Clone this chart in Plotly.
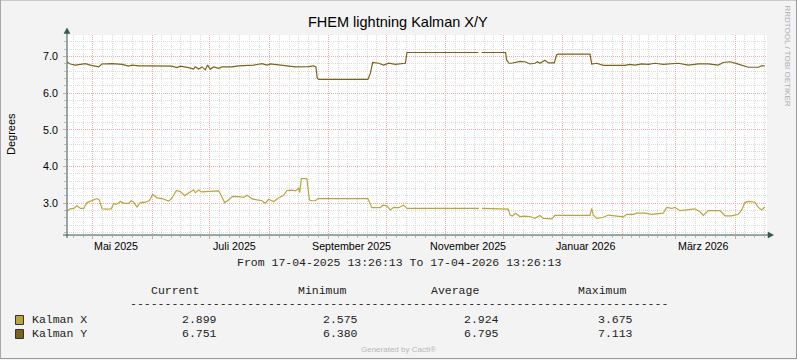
import numpy as np
import pandas as pd
import plotly.graph_objects as go

# ---------------- data ----------------
START = pd.Timestamp("2025-04-17 13:26:13")
END = pd.Timestamp("2026-04-17 13:26:13")

# Kalman Y : days since START and value (None = missing sample)
y_days = [0.0, 1.7, 4.3, 7.0, 9.6, 12.2, 14.8, 16.5, 18.2, 23.5, 28.7, 32.2, 33.9, 37.4, 42.6,
          49.5, 54.7, 57.4, 59.1, 63.4, 66.0, 66.9, 68.7, 70.4, 72.1, 73.3, 74.7, 76.5, 79.1,
          80.8, 86.0, 89.5, 94.7, 97.3, 101.7, 104.3, 106.0, 110.4, 113.8, 119.1, 126.0, 128.6,
          129.8, 130.5, 131.2, 156.9, 158.2, 159.4, 162.5, 165.1, 167.7, 171.2, 176.4, 177.3,
          181.4, 214.5, 215.5, 216.2, 228.7, 229.2, 230.5, 231.9, 236.2, 238.8, 241.4, 244.0,
          245.4, 246.6, 249.2, 251.0, 254.1, 255.3, 256.2, 272.7, 273.6, 276.2, 279.6, 290.9,
          293.5, 296.2, 299.6, 303.1, 306.6, 310.9, 315.3, 318.8, 324.0, 329.2, 334.4, 339.6,
          342.2, 345.7, 349.2, 352.6, 355.2, 360.5, 362.2, 363.9]
y_vals = [6.85, 6.80, 6.77, 6.80, 6.81, 6.77, 6.74, 6.72, 6.80, 6.81, 6.79, 6.74, 6.77, 6.75, 6.75,
          6.75, 6.74, 6.70, 6.74, 6.70, 6.66, 6.72, 6.66, 6.72, 6.64, 6.77, 6.66, 6.72, 6.68,
          6.72, 6.72, 6.75, 6.75, 6.77, 6.81, 6.77, 6.80, 6.77, 6.74, 6.72, 6.73, 6.75,
          6.72, 6.41, 6.38, 6.38, 6.55, 6.84, 6.82, 6.77, 6.82, 6.79, 6.82, 7.113,
          7.113, 7.113, None, 7.113, 7.113, 6.91, 6.82, 6.82, 6.87, 6.86, 6.80, 6.82,
          6.86, 6.82, 6.90, 6.83, 6.83, 7.05, 7.07, 7.07, 6.80, 6.82, 6.76, 6.76,
          6.79, 6.77, 6.80, 6.79, 6.82, 6.79, 6.80, 6.82, 6.77, 6.80, 6.80, 6.77,
          6.84, 6.86, 6.81, 6.76, 6.71, 6.71, 6.75, 6.751]

# Kalman X
x_days = [0.0, 1.7, 3.5, 5.2, 7.0, 8.7, 10.4, 13.0, 15.6, 16.9, 18.2, 20.0, 23.1, 24.3, 25.7,
          27.8, 29.5, 32.2, 33.5, 34.8, 36.5, 38.2, 40.8, 42.9, 44.7, 46.9, 49.5, 53.0, 54.7,
          57.0, 59.1, 61.4, 64.3, 66.0, 66.9, 68.7, 70.0, 73.9, 79.1, 79.9, 82.2, 84.3, 86.4,
          89.5, 92.1, 93.9, 96.5, 101.7, 103.4, 105.1, 107.8, 110.4, 113.0, 114.7, 117.3, 119.1,
          120.8, 121.3, 122.2, 125.1, 126.4, 127.7, 129.5, 130.9, 156.9, 159.0, 163.4, 164.6,
          166.8, 168.6, 170.3, 172.9, 175.5, 177.3, 214.8, 215.5, 216.4, 229.2, 230.1, 231.0,
          232.2, 233.9, 236.2, 238.8, 241.4, 244.0, 246.6, 248.4, 252.7, 254.4, 272.7, 273.6,
          274.4, 276.2, 279.6, 282.3, 285.7, 290.1, 291.8, 295.3, 297.0, 301.4, 304.8, 308.3,
          310.9, 312.7, 315.3, 317.0, 319.6, 323.1, 327.4, 330.0, 331.8, 334.4, 340.5, 343.1,
          346.6, 350.0, 351.8, 353.5, 355.2, 358.7, 360.5, 362.2, 363.9]
x_vals = [2.79, 2.85, 2.86, 2.93, 2.86, 2.86, 3.02, 3.07, 3.13, 3.09, 2.85, 2.84, 2.85, 2.99, 2.97,
          3.05, 3.00, 3.00, 3.07, 3.03, 2.90, 3.02, 3.03, 3.07, 3.24, 3.15, 3.13, 3.06, 3.14,
          3.35, 3.32, 3.21, 3.30, 3.37, 3.29, 3.36, 3.31, 3.33, 3.34, 3.27, 3.02, 3.09, 3.19,
          3.18, 3.16, 3.22, 3.12, 3.07, 3.00, 3.11, 3.05, 3.15, 3.22, 3.35, 3.36, 3.34,
          3.41, 3.29, 3.675, 3.675, 3.09, 3.07, 3.07, 3.13, 3.13, 2.88, 2.88, 2.95,
          2.93, 2.82, 2.89, 2.88, 2.95, 2.86, 2.86, None, 2.86, 2.86, 2.84, 2.68,
          2.65, 2.73, 2.64, 2.65, 2.64, 2.59, 2.67, 2.59, 2.575, 2.67, 2.67, 2.86,
          2.68, 2.59, 2.62, 2.68, 2.66, 2.63, 2.70, 2.70, 2.73, 2.73, 2.70, 2.71,
          2.73, 2.89, 2.86, 2.89, 2.80, 2.82, 2.85, 2.77, 2.67, 2.80, 2.80, 2.66,
          2.66, 2.70, 2.82, 3.02, 3.05, 3.03, 2.89, 2.82, 2.899]

month_label_days = [25.5, 87.1, 148.1, 209.1, 270.1, 332.1]
month_labels = ["Mai 2025", "Juli 2025", "September 2025", "November 2025", "Januar 2026", "März 2026"]

y_tick_vals = [3, 4, 5, 6, 7]
y_tick_text = ["3.0", "4.0", "5.0", "6.0", "7.0"]

series_names = ["Kalman X", "Kalman Y"]
stat_headers = ["Current", "Minimum", "Average", "Maximum"]
stats_x = ["2.899", "2.575", "2.924", "3.675"]
stats_y = ["6.751", "6.380", "6.795", "7.113"]

title_text = "FHEM lightning Kalman X/Y"
period_text = "From 17-04-2025 13:26:13 To 17-04-2026 13:26:13"

# ---------------- styling ----------------
W, H = 797, 360
L, R, T, B = 67, 767, 35, 235
COL_X = "#B9A53E"
COL_Y = "#7C6318"
AX = "#36584C"
SANS = "Liberation Sans, Arial, sans-serif"
MONO = "Liberation Mono, Courier New, monospace"
BG = "#F3F3F3"
MINOR_GRID = "#DADADA"
MAJOR_GRID = "#F2ABAB"


def PX(x):
    return (x - L) / (R - L)


def PY(y):
    return (B - y) / (B - T)


def to_time(days):
    return START + pd.to_timedelta(np.array(days, dtype=float), unit="D")


fig = go.Figure()
fig.add_trace(go.Scatter(x=to_time(x_days), y=x_vals, mode="lines", name=series_names[0],
                         line=dict(color=COL_X, width=1.2), connectgaps=False, showlegend=False))
fig.add_trace(go.Scatter(x=to_time(y_days), y=y_vals, mode="lines", name=series_names[1],
                         line=dict(color=COL_Y, width=1.2), connectgaps=False, showlegend=False))

# grid positions
months = pd.date_range("2025-04-01", "2026-05-01", freq="MS")
major = [m for m in months if START <= m <= END]
minor = []
for a, b in zip(months[:-1], months[1:]):
    for k in range(1, 6):
        t = a + (b - a) * k / 6
        if START <= t <= END:
            minor.append(t)

fig.update_xaxes(
    type="date", range=[START, END], tickmode="array",
    tickvals=[m.strftime("%Y-%m-%d %H:%M:%S") for m in major], ticktext=[""] * len(major),
    ticks="outside", ticklen=3, tickcolor="#E3A0A0", tickwidth=1,
    showgrid=True, gridcolor=MAJOR_GRID, gridwidth=1, griddash="1px,1px",
    minor=dict(tickmode="array", tickvals=[m.strftime("%Y-%m-%d %H:%M:%S") for m in minor],
               showgrid=True, gridcolor=MINOR_GRID, griddash="1px,1px", gridwidth=1,
               ticks="outside", ticklen=2, tickcolor="#BDBDBD"),
    showline=False, zeroline=False, fixedrange=True,
)
fig.update_yaxes(
    range=[2.136, 7.59], tickmode="array", tickvals=y_tick_vals, ticktext=y_tick_text,
    ticks="outside", ticklen=3, tickcolor="#E3A0A0",
    tickfont=dict(family=SANS, size=10.7, color="#000000"), ticklabelstandoff=3,
    showgrid=True, gridcolor=MAJOR_GRID, gridwidth=1, griddash="1px,1px",
    minor=dict(dtick=0.2, tick0=0, showgrid=True, gridcolor=MINOR_GRID, griddash="1px,1px",
               ticks="outside", ticklen=2, tickcolor="#BDBDBD"),
    showline=False, zeroline=False, fixedrange=True,
)

shapes = []
# outer frame
shapes.append(dict(type="line", xref="paper", yref="paper", x0=PX(0), x1=PX(797), y0=PY(0.5), y1=PY(0.5),
                   line=dict(color="#CBCBCB", width=1)))
shapes.append(dict(type="line", xref="paper", yref="paper", x0=PX(0.5), x1=PX(0.5), y0=PY(0), y1=PY(359),
                   line=dict(color="#A8A8A8", width=1)))
shapes.append(dict(type="line", xref="paper", yref="paper", x0=PX(796.5), x1=PX(796.5), y0=PY(0), y1=PY(359),
                   line=dict(color="#999999", width=1)))
shapes.append(dict(type="line", xref="paper", yref="paper", x0=PX(0), x1=PX(797), y0=PY(358.5), y1=PY(358.5),
                   line=dict(color="#999999", width=1)))
# axes with arrows
shapes.append(dict(type="line", xref="paper", yref="paper", x0=PX(63), x1=PX(769), y0=PY(235), y1=PY(235),
                   line=dict(color=AX, width=1)))
shapes.append(dict(type="line", xref="paper", yref="paper", x0=PX(67), x1=PX(67), y0=PY(238), y1=PY(32),
                   line=dict(color=AX, width=1)))
shapes.append(dict(type="path", xref="paper", yref="paper",
                   path=f"M {PX(768)} {PY(232)} L {PX(773.5)} {PY(235)} L {PX(768)} {PY(238)} Z",
                   fillcolor=AX, line=dict(color=AX, width=0.5)))
shapes.append(dict(type="path", xref="paper", yref="paper",
                   path=f"M {PX(64)} {PY(33.5)} L {PX(67)} {PY(28)} L {PX(70)} {PY(33.5)} Z",
                   fillcolor=AX, line=dict(color=AX, width=0.5)))
# legend swatches
for i, col in enumerate([COL_X, COL_Y]):
    y0 = 315.5 + i * 14
    shapes.append(dict(type="rect", xref="paper", yref="paper", x0=PX(15.5), x1=PX(23.5),
                       y0=PY(y0), y1=PY(y0 + 9), fillcolor=col, line=dict(color="#333333", width=1)))

ann = []


def text(x, y, s, size, family=SANS, color="#000000", xanchor="left", angle=0):
    ann.append(dict(xref="paper", yref="paper", x=PX(x), y=PY(y), text=s, showarrow=False,
                    xanchor=xanchor, yanchor="middle", textangle=angle,
                    font=dict(family=family, size=size, color=color)))


text(397.5, 21.5, title_text, 14.5, xanchor="center")
text(11, 134, "Degrees", 11, xanchor="center", angle=-90)
text(787.5, 56, "RRDTOOL / TOBI OETIKER", 8, color="#ADADAD", xanchor="center", angle=90)

for d, lab in zip(month_label_days, month_labels):
    ann.append(dict(xref="x", yref="paper", x=to_time([d])[0], y=PY(246), text=lab, showarrow=False,
                    xanchor="center", yanchor="middle", font=dict(family=SANS, size=10.7, color="#000000")))

text(398.5, 262.5, period_text, 11.5, family=MONO, xanchor="center", color="#222222")

hdr_x = [148.5, 295.5, 428.5, 575.5]
val_x = [179.5, 321, 462.5, 595.5]
for hx, h in zip(hdr_x, stat_headers):
    text(hx, 290.5, h, 11.5, family=MONO, color="#222222")
text(127.5, 303.5, "-" * 78, 11.5, family=MONO, color="#222222")
for row, (name, vals) in enumerate(zip(series_names, [stats_x, stats_y])):
    yy = 319.5 + row * 14
    text(30, yy, name, 11.5, family=MONO, color="#222222")
    for vx, v in zip(val_x, vals):
        text(vx, yy, v, 11.5, family=MONO, color="#222222")

text(398, 349.5, "Generated by Cacti®", 8, color="#B8B8B8", xanchor="center")

fig.update_layout(
    width=W, height=H, autosize=False,
    margin=dict(l=L, r=W - R, t=T, b=H - B, pad=0),
    paper_bgcolor=BG, plot_bgcolor="#FFFFFF",
    shapes=shapes, annotations=ann, showlegend=False,
    font=dict(family=SANS, color="#000000"),
)

fig.write_html("out.html", config={"displayModeBar": False},
               post_script="document.body.style.margin='0';document.body.style.padding='0';")
